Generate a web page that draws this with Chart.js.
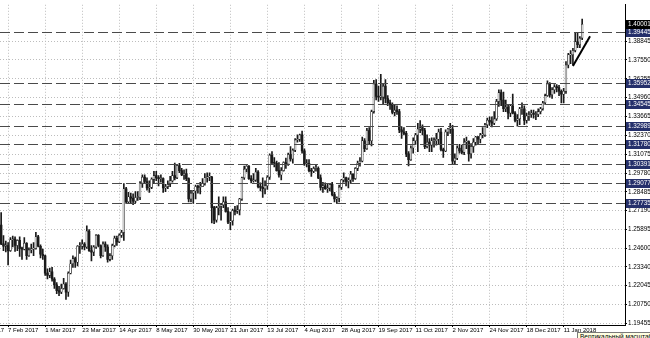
<!DOCTYPE html>
<html>
<head>
<meta charset="utf-8">
<title>GBPUSD Daily</title>
<script src="https://cdn.jsdelivr.net/npm/chart.js@4"></script>
<style>
  html, body { margin: 0; padding: 0; background: #fff; overflow: hidden; }
  #wrap { position: relative; width: 650px; height: 338px; }
  #tip {
    position: absolute; left: 577px; top: 332px; white-space: nowrap;
    font: 6.5px 'Liberation Sans', sans-serif; color: #000;
    background: #ffffe1; border: 1px solid #7a7a7a; padding: 0 2px; line-height: 8px;
  }
</style>
</head>
<body>
<div id="wrap">
  <canvas id="chart" width="650" height="338"></canvas>
  <div id="tip">Вертикальный масштаб</div>
</div>
<script>
// Daily bars, 2 Feb 2017 .. 23 Jan 2018 (one value per bar)
const opens = [
  1.2620,1.2491,1.2475,1.2480,1.2445,1.2520,1.2525,1.2480,1.2515,1.2460,
  1.2455,1.2495,1.2410,1.2450,1.2455,1.2460,1.2540,1.2475,1.2420,1.2410,
  1.2290,1.2275,1.2300,1.2250,1.2210,1.2170,1.2160,1.2185,1.2215,1.2160,
  1.2290,1.2355,1.2390,1.2365,1.2475,1.2475,1.2490,1.2470,1.2580,1.2445,
  1.2435,1.2470,1.2550,1.2480,1.2410,1.2490,1.2470,1.2385,1.2410,1.2480,
  1.2530,1.2505,1.2550,1.2570,1.2870,1.2780,1.2815,1.2805,1.2785,1.2810,
  1.2810,1.2910,1.2950,1.2920,1.2875,1.2880,1.2935,1.2960,1.2945,1.2940,
  1.2940,1.2875,1.2885,1.2900,1.2925,1.2960,1.2945,1.3030,1.2995,1.2965,
  1.2975,1.2940,1.2800,1.2840,1.2855,1.2885,1.2880,1.2885,1.2905,1.2945,
  1.2950,1.2950,1.2740,1.2655,1.2740,1.2750,1.2760,1.2780,1.2715,1.2640,
  1.2650,1.2720,1.2715,1.2725,1.2800,1.2945,1.3005,1.3025,1.2940,1.2925,
  1.2930,1.2985,1.2885,1.2880,1.2870,1.2890,1.2950,1.3100,1.3050,1.3045,
  1.2995,1.2965,1.2995,1.3050,1.3040,1.3105,1.3075,1.3135,1.3205,1.3210,
  1.3240,1.3130,1.3040,1.3045,1.2995,1.2990,1.3010,1.3010,1.2945,1.2880,
  1.2890,1.2870,1.2875,1.2900,1.2830,1.2800,1.2805,1.2880,1.2930,1.2945,
  1.2920,1.2930,1.2970,1.2940,1.3010,1.3045,1.3060,1.3200,1.3145,1.3270,
  1.3200,1.3400,1.3590,1.3505,1.3500,1.3500,1.3575,1.3490,1.3460,1.3450,
  1.3395,1.3410,1.3400,1.3275,1.3260,1.3250,1.3110,1.3070,1.3150,1.3200,
  1.3240,1.3280,1.3290,1.3270,1.3160,1.3190,1.3170,1.3200,1.3200,1.3210,
  1.3260,1.3140,1.3130,1.3260,1.3280,1.3280,1.3060,1.3080,1.3150,1.3130,
  1.3120,1.3190,1.3195,1.3110,1.3160,1.3190,1.3225,1.3210,1.3240,1.3240,
  1.3310,1.3340,1.3330,1.3320,1.3350,1.3470,1.3530,1.3480,1.3420,1.3430,
  1.3390,1.3440,1.3390,1.3340,1.3350,1.3420,1.3420,1.3340,1.3370,1.3380,
  1.3390,1.3380,1.3380,1.3400,1.3420,1.3460,1.3510,1.3590,1.3515,1.3550,
  1.3570,1.3565,1.3540,1.3520,1.3540,1.3720,1.3790,1.3790,1.3820,1.3880,
  1.3860,1.3905
];
const highs = [
  1.2706,1.2549,1.2510,1.2500,1.2535,1.2545,1.2540,1.2520,1.2540,1.2470,
  1.2535,1.2500,1.2465,1.2490,1.2500,1.2570,1.2550,1.2485,1.2455,1.2415,
  1.2320,1.2325,1.2330,1.2260,1.2225,1.2200,1.2215,1.2255,1.2225,1.2300,
  1.2380,1.2410,1.2400,1.2480,1.2500,1.2520,1.2500,1.2615,1.2590,1.2480,
  1.2480,1.2555,1.2555,1.2485,1.2505,1.2505,1.2485,1.2425,1.2490,1.2545,
  1.2545,1.2560,1.2585,1.2905,1.2880,1.2845,1.2840,1.2835,1.2850,1.2850,
  1.2920,1.2965,1.2965,1.2945,1.2925,1.2945,1.2990,1.2990,1.2960,1.2965,
  1.2945,1.2900,1.2925,1.2955,1.2990,1.3047,1.3035,1.3045,1.3010,1.3000,
  1.3005,1.2945,1.2860,1.2860,1.2895,1.2895,1.2915,1.2940,1.2975,1.2980,
  1.2980,1.2955,1.2750,1.2750,1.2815,1.2770,1.2815,1.2815,1.2740,1.2710,
  1.2730,1.2750,1.2755,1.2805,1.2950,1.3025,1.3030,1.3030,1.2960,1.2975,
  1.3010,1.2995,1.2910,1.2945,1.2925,1.2960,1.3110,1.3126,1.3085,1.3060,
  1.3050,1.3015,1.3055,1.3080,1.3115,1.3160,1.3145,1.3215,1.3240,1.3245,
  1.3267,1.3145,1.3070,1.3070,1.3010,1.3020,1.3035,1.3020,1.2965,1.2915,
  1.2910,1.2905,1.2905,1.2915,1.2845,1.2815,1.2895,1.2935,1.2980,1.2950,
  1.2945,1.2990,1.2975,1.3015,1.3060,1.3085,1.3225,1.3215,1.3285,1.3290,
  1.3410,1.3615,1.3620,1.3575,1.3657,1.3590,1.3620,1.3510,1.3480,1.3460,
  1.3445,1.3440,1.3415,1.3295,1.3290,1.3265,1.3125,1.3165,1.3220,1.3250,
  1.3320,1.3338,1.3310,1.3285,1.3240,1.3215,1.3220,1.3220,1.3250,1.3280,
  1.3285,1.3150,1.3275,1.3285,1.3320,1.3305,1.3110,1.3165,1.3175,1.3170,
  1.3215,1.3225,1.3200,1.3180,1.3215,1.3230,1.3230,1.3250,1.3290,1.3320,
  1.3355,1.3365,1.3365,1.3400,1.3485,1.3549,1.3550,1.3535,1.3480,1.3450,
  1.3450,1.3520,1.3400,1.3380,1.3430,1.3460,1.3440,1.3390,1.3400,1.3410,
  1.3410,1.3400,1.3420,1.3430,1.3470,1.3520,1.3612,1.3600,1.3565,1.3585,
  1.3585,1.3580,1.3550,1.3560,1.3744,1.3800,1.3820,1.3835,1.3945,1.3945,
  1.3915,1.4035
];
const lows = [
  1.2486,1.2444,1.2436,1.2346,1.2440,1.2470,1.2440,1.2445,1.2405,1.2385,
  1.2450,1.2385,1.2405,1.2430,1.2410,1.2455,1.2470,1.2395,1.2385,1.2275,
  1.2250,1.2260,1.2235,1.2185,1.2150,1.2135,1.2150,1.2180,1.2109,1.2130,
  1.2285,1.2330,1.2330,1.2340,1.2425,1.2455,1.2450,1.2460,1.2440,1.2375,
  1.2410,1.2460,1.2470,1.2395,1.2405,1.2440,1.2365,1.2375,1.2385,1.2470,
  1.2480,1.2500,1.2535,1.2515,1.2770,1.2770,1.2775,1.2760,1.2775,1.2790,
  1.2795,1.2880,1.2905,1.2860,1.2845,1.2870,1.2905,1.2925,1.2890,1.2915,
  1.2845,1.2850,1.2870,1.2885,1.2915,1.2930,1.2940,1.2980,1.2960,1.2935,
  1.2925,1.2780,1.2780,1.2770,1.2800,1.2840,1.2835,1.2885,1.2895,1.2915,
  1.2925,1.2636,1.2630,1.2640,1.2690,1.2655,1.2740,1.2710,1.2630,1.2589,
  1.2620,1.2690,1.2700,1.2690,1.2790,1.2935,1.2985,1.2935,1.2910,1.2915,
  1.2920,1.2875,1.2855,1.2811,1.2835,1.2865,1.2935,1.3035,1.3020,1.2990,
  1.2950,1.2930,1.2990,1.3010,1.3030,1.3060,1.3045,1.3125,1.3190,1.3195,
  1.3115,1.3030,1.3020,1.2985,1.2955,1.2980,1.2990,1.2940,1.2860,1.2845,
  1.2865,1.2845,1.2855,1.2820,1.2780,1.2774,1.2780,1.2865,1.2915,1.2890,
  1.2875,1.2905,1.2920,1.2935,1.2995,1.3025,1.3055,1.3125,1.3140,1.3175,
  1.3165,1.3390,1.3480,1.3470,1.3480,1.3455,1.3460,1.3440,1.3415,1.3385,
  1.3370,1.3380,1.3255,1.3215,1.3240,1.3090,1.3027,1.3065,1.3115,1.3175,
  1.3125,1.3255,1.3240,1.3145,1.3150,1.3125,1.3125,1.3155,1.3170,1.3175,
  1.3130,1.3085,1.3125,1.3235,1.3250,1.3040,1.3040,1.3070,1.3115,1.3110,
  1.3105,1.3145,1.3060,1.3080,1.3120,1.3170,1.3175,1.3185,1.3220,1.3230,
  1.3290,1.3305,1.3295,1.3310,1.3340,1.3435,1.3440,1.3400,1.3400,1.3350,
  1.3365,1.3385,1.3330,1.3300,1.3310,1.3380,1.3310,1.3320,1.3340,1.3360,
  1.3355,1.3345,1.3365,1.3385,1.3410,1.3450,1.3505,1.3500,1.3490,1.3525,
  1.3535,1.3510,1.3460,1.3460,1.3525,1.3700,1.3730,1.3720,1.3810,1.3840,
  1.3840,1.3895
];
const closes = [
  1.2491,1.2475,1.2480,1.2445,1.2520,1.2525,1.2480,1.2515,1.2460,1.2455,
  1.2495,1.2410,1.2450,1.2455,1.2460,1.2540,1.2475,1.2420,1.2410,1.2290,
  1.2275,1.2300,1.2250,1.2210,1.2170,1.2160,1.2185,1.2215,1.2160,1.2290,
  1.2355,1.2390,1.2365,1.2475,1.2475,1.2490,1.2470,1.2580,1.2445,1.2435,
  1.2470,1.2550,1.2480,1.2410,1.2490,1.2470,1.2385,1.2410,1.2480,1.2530,
  1.2505,1.2550,1.2570,1.2870,1.2780,1.2815,1.2805,1.2785,1.2810,1.2810,
  1.2910,1.2950,1.2920,1.2875,1.2880,1.2935,1.2960,1.2945,1.2940,1.2940,
  1.2875,1.2885,1.2900,1.2925,1.2960,1.2945,1.3030,1.2995,1.2965,1.2975,
  1.2940,1.2800,1.2840,1.2855,1.2885,1.2880,1.2885,1.2905,1.2945,1.2950,
  1.2950,1.2740,1.2655,1.2740,1.2750,1.2760,1.2780,1.2715,1.2640,1.2650,
  1.2720,1.2715,1.2725,1.2800,1.2945,1.3005,1.3025,1.2940,1.2925,1.2930,
  1.2985,1.2885,1.2880,1.2870,1.2890,1.2950,1.3100,1.3050,1.3045,1.2995,
  1.2965,1.2995,1.3050,1.3040,1.3105,1.3075,1.3135,1.3205,1.3210,1.3240,
  1.3130,1.3040,1.3045,1.2995,1.2990,1.3010,1.3010,1.2945,1.2880,1.2890,
  1.2870,1.2875,1.2900,1.2830,1.2800,1.2805,1.2880,1.2930,1.2945,1.2920,
  1.2930,1.2970,1.2940,1.3010,1.3045,1.3060,1.3200,1.3145,1.3270,1.3200,
  1.3400,1.3590,1.3505,1.3500,1.3500,1.3575,1.3490,1.3460,1.3450,1.3395,
  1.3410,1.3400,1.3275,1.3260,1.3250,1.3110,1.3070,1.3150,1.3200,1.3240,
  1.3280,1.3290,1.3270,1.3160,1.3190,1.3170,1.3200,1.3200,1.3210,1.3260,
  1.3140,1.3130,1.3260,1.3280,1.3280,1.3060,1.3080,1.3150,1.3130,1.3120,
  1.3190,1.3195,1.3110,1.3160,1.3190,1.3225,1.3210,1.3240,1.3240,1.3310,
  1.3340,1.3330,1.3320,1.3350,1.3470,1.3530,1.3480,1.3420,1.3430,1.3390,
  1.3440,1.3390,1.3340,1.3350,1.3420,1.3420,1.3340,1.3370,1.3380,1.3390,
  1.3380,1.3380,1.3400,1.3420,1.3460,1.3510,1.3590,1.3515,1.3550,1.3570,
  1.3565,1.3540,1.3520,1.3540,1.3720,1.3790,1.3790,1.3820,1.3880,1.3860,
  1.3905,1.4000
];

// Time axis: bar slots on screen (incl. empty chart shift) and labelled bars
const SLOTS = 270;
const dateTickIdx = [3, 19, 35, 51, 67, 83, 99, 115, 131, 147, 163, 179, 195, 211, 227, 243];
const dateTickText = ['7 Feb 2017', '1 Mar 2017', '23 Mar 2017', '14 Apr 2017', '8 May 2017', '30 May 2017',
  '21 Jun 2017', '13 Jul 2017', '4 Aug 2017', '28 Aug 2017', '19 Sep 2017', '11 Oct 2017',
  '2 Nov 2017', '24 Nov 2017', '18 Dec 2017', '11 Jan 2018'];
// previous label, its bar lies left of the visible window (only its tail shows)
const hiddenTickIdx = -13;
const hiddenTickText = '16 Jan 2017';

// Price axis ticks and the horizontal levels drawn on the chart
const priceTicks = [1.19455, 1.20750, 1.22045, 1.23340, 1.24600, 1.25895, 1.27190, 1.28485,
  1.29780, 1.31075, 1.32370, 1.33665, 1.34960, 1.36255, 1.37550, 1.38845];
const levels = [1.39445, 1.35952, 1.34545, 1.32989, 1.31780, 1.30391, 1.29077, 1.27735];
const bidPrice = 1.40001;

// Trend line under the lows of the last bars (bar index, price)
const trendIdx = [247, 254.4];
const trendPrice = [1.3714, 1.3917];

const FONT = "'Liberation Sans', Arial, sans-serif";
const slotLabels = Array.from({ length: SLOTS }, (_, i) => i);
const isBull = opens.map((o, i) => closes[i] >= o);

// Dashed levels, trend line and price boxes on the right scale
const overlay = {
  id: 'overlay',
  afterDatasetsDraw(chart) {
    const { ctx, chartArea: a, scales: { x, y } } = chart;
    ctx.save();
    ctx.beginPath();
    ctx.rect(a.left, a.top, a.right - a.left, a.bottom - a.top);
    ctx.clip();
    ctx.strokeStyle = '#4a4a4a';
    ctx.lineWidth = 1;
    ctx.setLineDash([10, 4]);
    levels.forEach((p) => {
      const py = Math.round(y.getPixelForValue(p)) + 0.5;
      ctx.beginPath(); ctx.moveTo(a.left, py); ctx.lineTo(a.right, py); ctx.stroke();
    });
    ctx.setLineDash([]);
    ctx.lineWidth = 2;
    ctx.strokeStyle = '#000';
    ctx.beginPath();
    ctx.moveTo(x.getPixelForValue(trendIdx[0]), y.getPixelForValue(trendPrice[0]));
    ctx.lineTo(x.getPixelForValue(trendIdx[1]), y.getPixelForValue(trendPrice[1]));
    ctx.stroke();
    ctx.restore();
  },
  afterDraw(chart) {
    const { ctx, chartArea: a, scales: { x, y } } = chart;
    const box = (p, fill) => {
      const py = Math.round(y.getPixelForValue(p));
      ctx.fillStyle = fill;
      ctx.fillRect(a.right + 1, py - 4, 650 - a.right - 1, 9);
      ctx.fillStyle = '#fff';
      ctx.font = '6.3px ' + FONT;
      ctx.textBaseline = 'middle';
      ctx.textAlign = 'left';
      ctx.fillText(p.toFixed(5), a.right + 3, py + 0.5);
    };
    ctx.save();
    levels.forEach((p) => box(p, '#25306b'));
    box(bidPrice, '#000');
    // tail of the date label that belongs to a bar off the left edge
    ctx.fillStyle = '#000';
    ctx.font = '6px ' + FONT;
    ctx.textBaseline = 'middle';
    ctx.textAlign = 'left';
    ctx.fillText(hiddenTickText, x.getPixelForValue(hiddenTickIdx), a.bottom + 5.6);
    ctx.restore();
  }
};

new Chart(document.getElementById('chart'), {
  type: 'bar',
  data: {
    labels: slotLabels,
    datasets: [
      {
        label: 'range',
        data: highs.map((h, i) => [lows[i], h]),
        backgroundColor: '#1a1a1a',
        barThickness: 1,
        grouped: false,
        order: 2
      },
      {
        label: 'body',
        data: opens.map((o, i) => [Math.min(o, closes[i]), Math.max(o, closes[i])]),
        backgroundColor: isBull.map((b) => (b ? '#fff' : '#1a1a1a')),
        borderColor: '#1a1a1a',
        borderWidth: isBull.map((b) => (b ? 0.6 : 0)),
        borderSkipped: false,
        barThickness: 1.8,
        minBarLength: 1,
        grouped: false,
        order: 1
      }
    ]
  },
  options: {
    responsive: false,
    animation: false,
    devicePixelRatio: 1,
    layout: { padding: { left: 0, top: 0, right: 0, bottom: 0 } },
    plugins: { legend: { display: false }, tooltip: { enabled: false } },
    scales: {
      x: {
        type: 'category',
        offset: true,
        afterBuildTicks: (s) => { s.ticks = dateTickIdx.map((v) => ({ value: v })); },
        afterFit: (s) => { s.height = 13; },
        grid: { offset: false, color: '#bdbdbd', tickColor: '#000', tickLength: 2 },
        border: { color: '#000', dash: [1, 2] },
        ticks: {
          autoSkip: false, maxRotation: 0, align: 'start', padding: 0,
          color: '#000', font: { family: FONT, size: 6 },
          callback: (v) => dateTickText[dateTickIdx.indexOf(v)]
        }
      },
      y: {
        type: 'linear',
        position: 'right',
        min: 1.1934,
        max: 1.4134,
        afterBuildTicks: (s) => { s.ticks = priceTicks.map((v) => ({ value: v })); },
        afterFit: (s) => { s.width = 25; },
        grid: { color: '#bdbdbd', tickColor: '#000', tickLength: 2 },
        border: { color: '#000', dash: [1, 2] },
        ticks: {
          autoSkip: false, padding: 1, color: '#000',
          font: { family: FONT, size: 6.3 },
          callback: (v) => v.toFixed(5)
        }
      }
    }
  },
  plugins: [overlay]
});
</script>
</body>
</html>
